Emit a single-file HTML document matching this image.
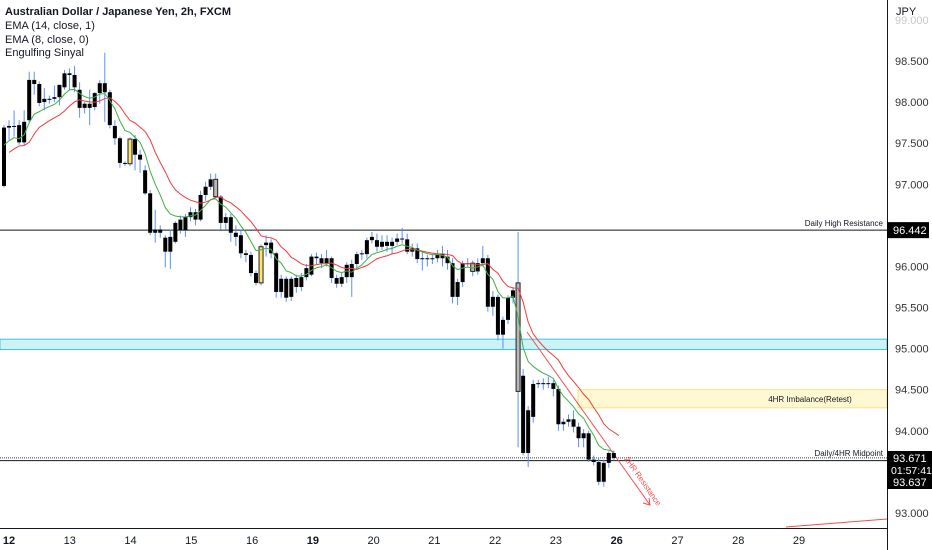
<!DOCTYPE html>
<html><head><meta charset="utf-8">
<style>
html,body{margin:0;padding:0;background:#fff;width:932px;height:550px;overflow:hidden}
svg{display:block;font-family:"Liberation Sans",sans-serif}
</style></head>
<body>
<svg id="chart" width="932" height="550" viewBox="0 0 932 550" xmlns="http://www.w3.org/2000/svg">
<g id="zones"></g>
<g id="lines"></g>
<g id="candles"></g>
<g id="emas"></g>
<g id="axes"></g>
<g font-size="11" fill="#131722">
<text x="5" y="15" font-weight="bold">Australian Dollar / Japanese Yen, 2h, FXCM</text>
<text x="5" y="29">EMA (14, close, 1)</text>
<text x="5" y="43">EMA (8, close, 0)</text>
<text x="5" y="56">Engulfing Sinyal</text>
</g>
</svg>
<script>
const opens=[97.69,97.69,97.71,97.72,97.51,97.78,98.27,98.22,98.00,98.03,98.04,98.06,98.18,98.35,98.33,98.15,97.98,97.93,97.94,98.11,98.23,98.12,97.71,97.56,97.26,97.25,97.55,97.36,97.17,96.89,96.41,96.45,96.35,96.18,96.30,96.44,96.44,96.60,96.57,96.57,96.87,96.97,97.06,96.85,96.53,96.60,96.41,96.38,96.16,96.14,95.92,95.80,96.26,96.29,96.16,95.69,95.85,95.63,95.86,95.75,95.87,95.90,96.12,96.10,96.04,96.10,95.86,95.79,95.87,96.03,96.03,96.16,96.15,96.32,96.32,96.30,96.25,96.30,96.30,96.34,96.33,96.22,96.22,96.10,96.10,96.09,96.10,96.15,96.12,96.04,95.63,95.81,96.04,96.04,95.94,96.04,96.10,95.51,95.63,95.17,95.35,95.62,95.80,94.67,93.73,94.17,94.57,94.58,94.57,94.58,94.51,94.08,94.11,94.14,94.05,93.91,93.97,93.65,93.62,93.38,93.61,93.73];
const closes=[96.98,97.71,97.70,97.51,97.76,98.27,98.22,97.99,98.04,98.04,98.06,98.21,98.35,98.33,98.18,97.93,97.93,97.98,98.11,98.23,98.12,97.72,97.56,97.26,97.25,97.55,97.36,97.30,96.89,96.41,96.45,96.41,96.18,96.36,96.53,96.57,96.60,96.66,96.66,96.87,96.97,97.06,96.85,96.53,96.60,96.41,96.36,96.16,96.14,95.92,95.80,96.24,96.29,96.16,95.69,95.85,95.62,95.85,95.75,95.87,95.98,96.12,96.10,96.04,96.10,95.86,95.79,95.87,96.02,95.87,96.15,96.16,96.32,96.36,96.24,96.24,96.30,96.25,96.34,96.33,96.18,96.18,96.09,96.09,96.09,96.10,96.15,96.10,96.04,95.63,95.81,96.04,96.04,95.94,96.04,96.10,95.51,95.63,95.17,95.35,95.62,95.71,94.48,93.73,94.25,94.57,94.58,94.57,94.58,94.51,94.08,94.11,94.14,94.05,93.91,93.97,93.65,93.62,93.38,93.61,93.73,93.67];
const highs=[97.72,97.78,97.90,97.78,97.90,98.37,98.37,98.25,98.17,98.08,98.20,98.21,98.39,98.41,98.44,98.24,98.00,98.15,98.12,98.27,98.60,98.15,97.78,97.58,97.28,97.57,97.60,97.42,97.23,96.93,96.69,96.50,96.38,96.45,96.55,96.62,96.64,96.72,96.70,96.92,97.03,97.13,97.13,96.87,96.65,96.64,96.50,96.45,96.20,96.18,95.95,96.27,96.38,96.33,96.18,95.90,95.88,95.88,95.90,95.92,96.03,96.15,96.17,96.15,96.20,96.12,95.90,95.92,96.05,96.08,96.18,96.20,96.35,96.42,96.40,96.38,96.38,96.35,96.40,96.47,96.40,96.28,96.28,96.17,96.14,96.15,96.20,96.25,96.20,96.10,95.85,96.07,96.10,96.07,96.10,96.25,96.14,95.70,95.66,95.39,95.65,95.75,96.42,94.75,94.30,94.62,94.62,94.64,94.66,94.62,94.55,94.15,94.20,94.25,94.10,94.02,94.00,93.70,93.67,93.65,93.75,93.76];
const lows=[96.96,97.54,97.58,97.48,97.48,97.76,98.09,97.95,97.90,97.98,98.00,97.96,98.15,98.15,98.12,97.81,97.86,97.72,97.90,97.98,97.76,97.68,97.48,97.20,97.22,97.22,97.17,97.14,96.87,96.38,96.29,96.35,95.99,95.97,96.28,96.40,96.36,96.55,96.50,96.55,96.80,96.93,96.83,96.45,96.45,96.30,96.25,96.10,96.05,95.88,95.77,95.77,96.12,96.10,95.62,95.62,95.57,95.58,95.68,95.70,95.83,95.88,96.03,95.98,96.00,95.80,95.74,95.75,95.80,95.63,95.98,96.08,96.10,96.28,96.18,96.20,96.18,96.15,96.26,96.28,96.15,96.12,96.04,95.95,96.00,96.03,96.05,96.00,95.96,95.55,95.53,95.75,96.00,95.88,95.90,96.00,95.45,95.40,95.10,95.00,95.30,95.55,93.80,93.70,93.56,94.10,94.52,94.50,94.52,94.42,94.00,94.00,94.05,93.98,93.80,93.80,93.62,93.58,93.34,93.32,93.55,93.64];
const signalOrange=[25,51];
const signalGray=[42,93,102];
const priceTicks=["99.000","98.500","98.000","97.500","97.000","96.500","96.000","95.500","95.000","94.500","94.000","93.000"];
const dayLabels=["12","13","14","15","16","19","20","21","22","23","26","27","28","29"];
const boldDays=["12","19","26"];
const levelHigh=96.442, levelMidA=93.671, levelMidB=93.637;
const zoneCyan=[95.115,94.99], zoneYellow=[94.5,94.28];
const emaSeed8=97.62, emaSeed14=97.45;

const NS="http://www.w3.org/2000/svg";
function el(tag,attrs,parent,text){const e=document.createElementNS(NS,tag);for(const k in attrs)e.setAttribute(k,attrs[k]);if(text!==undefined)e.textContent=text;parent.appendChild(e);return e;}
const PW=887;
function yOf(p){return 513-(p-93)*82.18;}
function xOf(i){return 4+i*5.04;}
function xDay(k){return 9+k*60.77;}

const gZ=document.getElementById('zones'),gL=document.getElementById('lines'),gC=document.getElementById('candles'),gE=document.getElementById('emas'),gA=document.getElementById('axes');

let z=el('rect',{x:0,y:yOf(zoneCyan[0]),width:PW,height:yOf(zoneCyan[1])-yOf(zoneCyan[0]),fill:'#cdf3f6',stroke:'#3ec5d8','stroke-width':1},gZ);


z=el('rect',{x:578,y:yOf(zoneYellow[0]),width:PW-578,height:yOf(zoneYellow[1])-yOf(zoneYellow[0]),fill:'#fff8d2',stroke:'#f7e27a','stroke-width':1},gZ);


let t=el('text',{x:810,y:(yOf(zoneYellow[0])+yOf(zoneYellow[1]))/2+3,'font-size':8,'text-anchor':'middle',fill:'#131722'},gZ,'4HR Imbalance(Retest)');



let l=el('line',{x1:0,x2:PW,y1:yOf(levelHigh),y2:yOf(levelHigh),stroke:'#131722','stroke-width':1},gL);


t=el('text',{x:883,y:yOf(levelHigh)-4,'font-size':8,'text-anchor':'end',fill:'#131722'},gL,'Daily High Resistance');


l=el('line',{x1:0,x2:PW,y1:yOf(levelMidA),y2:yOf(levelMidA),stroke:'#444','stroke-width':1,'stroke-dasharray':'1,1'},gL);


l=el('line',{x1:0,x2:PW,y1:yOf(levelMidB),y2:yOf(levelMidB),stroke:'#131722','stroke-width':1},gL);


t=el('text',{x:883,y:yOf(levelMidA)-2,'font-size':8,'text-anchor':'end',fill:'#131722'},gL,'Daily/4HR Midpoint');


l=el('line',{x1:527,y1:332,x2:650,y2:505,stroke:'#f05050','stroke-width':1},gL);


l=el('polyline',{points:'643,503 650,505 649,498',fill:'none',stroke:'#f05050','stroke-width':1},gL);


t=el('text',{x:0,y:0,'font-size':8,fill:'#f05050',transform:'translate(624,459) rotate(55)'},gL,'2HR Resistance');


l=el('line',{x1:786,y1:527,x2:887,y2:519,stroke:'#f05050','stroke-width':1},gL);



for(let i=0;i<opens.length;i++){
  const x=xOf(i);
  const w=el('line',{x1:x,x2:x,y1:yOf(highs[i]),y2:yOf(lows[i]),stroke:'#5b8ff9','stroke-width':1},gC);
  
  
  const top=yOf(Math.max(opens[i],closes[i])),bot=yOf(Math.min(opens[i],closes[i]));
  let fill='#000',stroke='#000';
  if(signalOrange.includes(i)){fill='#ffe36b';stroke='#222';}
  if(signalGray.includes(i)){fill='#b8b8b8';stroke='#222';}
  const b=el('rect',{x:x-2,y:top,width:4,height:Math.max(1,bot-top),fill:fill,stroke:stroke,'stroke-width':(fill==='#000'?0:1)},gC);
  
  
}

function ema(n,seed){const k=2/(n+1);let v=seed;const out=[];for(let i=0;i<closes.length;i++){v=closes[i]*k+v*(1-k);out.push(v);}return out;}
const e14=ema(14,emaSeed14),e8=ema(8,emaSeed8);
let pts=e14.map((v,i)=>xOf(i+1)+','+yOf(v)).join(' ');
l=el('polyline',{points:pts,fill:'none',stroke:'#f23b3b','stroke-width':1},gE);


pts=e8.map((v,i)=>xOf(i)+','+yOf(v)).join(' ');
l=el('polyline',{points:pts,fill:'none',stroke:'#3cb043','stroke-width':1},gE);



el('rect',{x:PW+0.5,y:0,width:45,height:550,fill:'#fff'},gA);
el('rect',{x:0,y:528,width:932,height:22,fill:'#fff'},gA);
l=el('line',{x1:PW+0.5,x2:PW+0.5,y1:0,y2:550,stroke:'#131722','stroke-width':1},gA);


l=el('line',{x1:0,x2:PW,y1:528.5,y2:528.5,stroke:'#131722','stroke-width':1},gA);


priceTicks.forEach(s=>{
  const y=yOf(parseFloat(s));
  const tt=el('text',{x:895,y:y+4,'font-size':11,fill:(s==='99.000'||s==='96.500')?'#c8c8c8':'#333'},gA,s);
  
  
});
t=el('text',{x:896,y:15,'font-size':11,fill:'#131722'},gA,'JPY');


dayLabels.forEach((s,k)=>{
  const tt=el('text',{x:xDay(k),y:544,'font-size':11,'text-anchor':'middle',fill:'#131722','font-weight':boldDays.includes(s)?'bold':'normal'},gA,s);
  
  
});
let r=el('rect',{x:887,y:yOf(levelHigh)-8,width:42,height:16,fill:'#000'},gA);


t=el('text',{x:893,y:yOf(levelHigh)+4,'font-size':11,fill:'#fff'},gA,levelHigh.toFixed(3));


r=el('rect',{x:887,y:451,width:45,height:38,fill:'#000'},gA);


t=el('text',{x:893,y:462,'font-size':11,fill:'#fff'},gA,levelMidA.toFixed(3));


t=el('text',{x:891,y:474,'font-size':10.5,fill:'#fff'},gA,'01:57:41');


t=el('text',{x:893,y:486,'font-size':11,fill:'#fff'},gA,levelMidB.toFixed(3));


</script>
</body></html>
